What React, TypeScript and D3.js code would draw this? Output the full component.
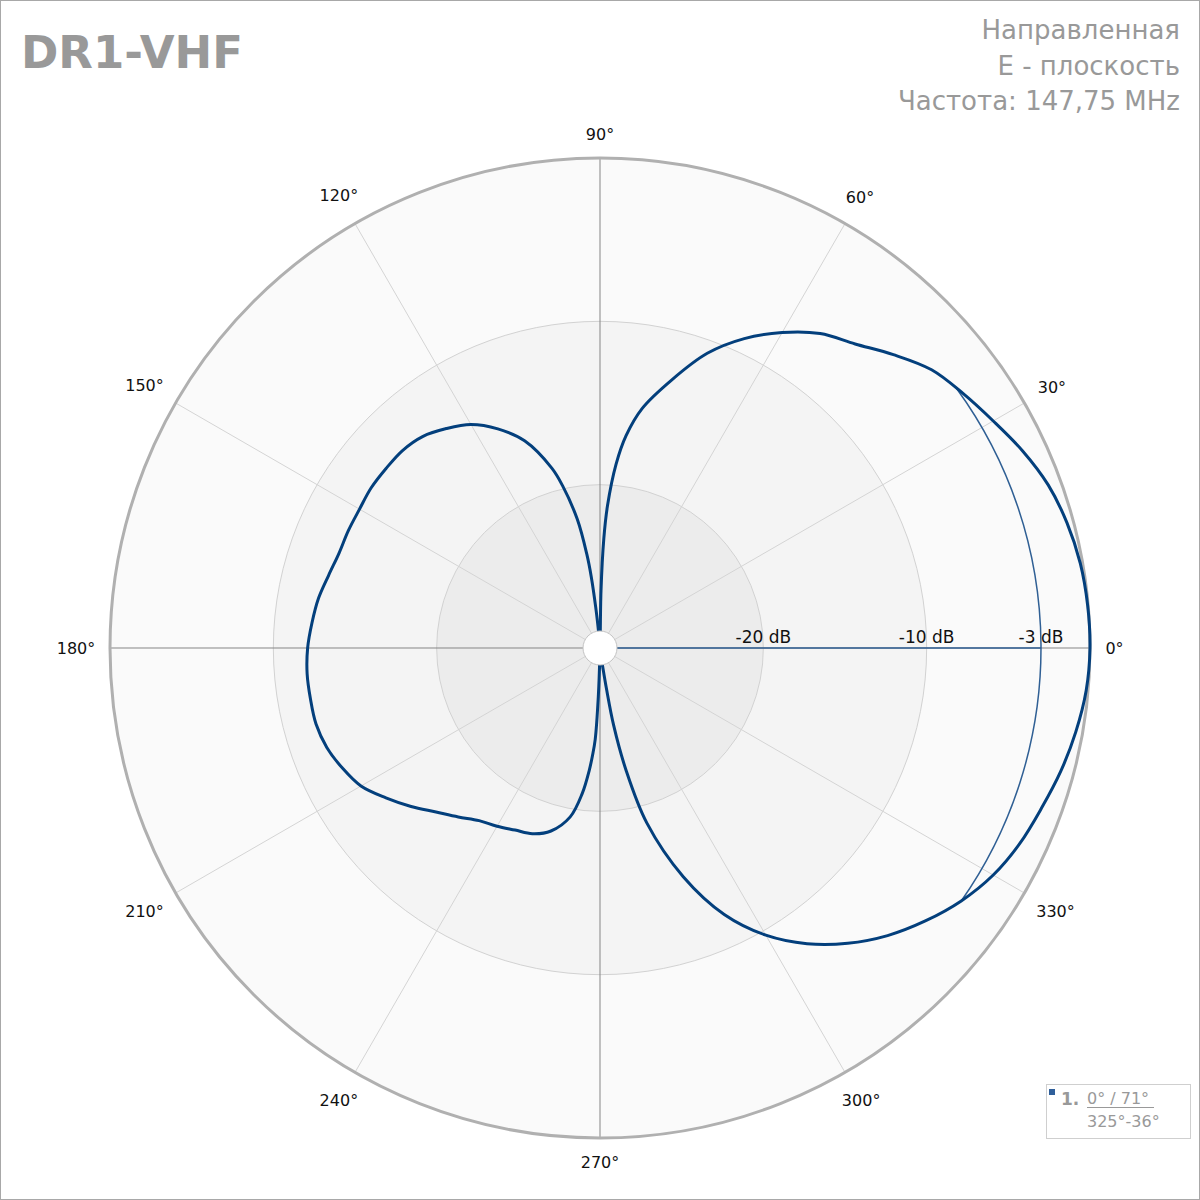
import { useEffect, useRef } from 'react';
import * as d3 from 'd3';

// measured pattern, degrees (counter-clockwise from 0° at right) / dB
const angleDeg = [
  0, 5, 10, 15, 20, 25, 30, 35, 40, 45, 50, 55, 60, 65, 70, 75, 80, 83, 85, 87, 88, 89,
  90, 93, 95, 96, 97, 98, 100, 103, 105, 110, 115, 120, 125, 130, 135, 140, 145, 150,
  155, 160, 165, 170, 175, 180, 185, 190, 195, 200, 205, 210, 215, 220, 225, 230, 235,
  240, 245, 250, 255, 260, 263, 265, 266, 267, 268, 269, 270, 275, 278, 279, 280, 282,
  285, 290, 295, 300, 305, 310, 315, 320, 325, 330, 335, 340, 345, 350, 355,
];
const gainDb = [
  0, -0.03, -0.14, -0.4, -0.8, -1.45, -2.2, -2.85, -3.5, -4.6, -5.7, -6.5, -7.7, -9.1,
  -10.8, -13.0, -15.1, -16.9, -18.7, -21.3, -23.3, -26.5,
  -30, -29.8, -29.0, -27.5, -25.6, -24.2, -22.0, -19.8, -18.6, -16.5, -15.2, -14.2,
  -13.6, -13.1, -12.9, -12.9, -12.9, -13.0, -13.0, -13.0, -12.8, -12.5, -12.3, -12.1,
  -12.0, -12.0, -12.0, -12.2, -12.6, -13.1, -14.0, -14.9, -15.8, -16.5, -17.1, -17.4,
  -17.7, -17.9, -18.4, -19.5, -21.0, -22.5, -23.4, -24.4, -27.0, -29.5, -30, -29.7,
  -29.0, -27.5, -25.2, -22.4, -18.9, -15.1, -12.0, -9.7, -7.9, -6.4, -5.1, -4.0, -3.0,
  -2.2, -1.65, -1.25, -0.8, -0.42, -0.12,
];

const ringDb = [-20, -10, 0];
const ringLabels = ['-20 dB', '-10 dB'];
const spokeDeg = [0, 30, 60, 90, 120, 150, 180, 210, 240, 270, 300, 330];
const halfPowerDb = -3;
const beamFrom = 325;
const beamTo = 36;

const titleText = 'DR1-VHF';
const infoLines = ['Направленная', 'E - плоскость', 'Частота: 147,75 MHz'];
const legendHead = '0° / 71°';
const legendSub = '325°-36°';

const FONT = '"DejaVu Sans", Verdana, sans-serif';

export default function App() {
  const svgRef = useRef<SVGSVGElement>(null);
  const width = 1200;
  const height = 1200;

  useEffect(() => {
    if (!svgRef.current) return;
    const svg = d3.select(svgRef.current);
    svg.selectAll('*').remove();

    const cx = 600;
    const cy = 648;
    const r = d3.scaleLinear().domain([-30, 0]).range([0, 490]).clamp(true);
    const toRad = (deg: number) => ((90 - deg) * Math.PI) / 180;

    svg.append('rect')
      .attr('x', 0.5).attr('y', 0.5)
      .attr('width', width - 1).attr('height', height - 1)
      .attr('fill', '#fff').attr('stroke', '#a8a8a8');

    const g = svg.append('g').attr('transform', `translate(${cx},${cy})`);

    // shaded zones
    const zoneFill = ['#fafafa', '#f4f4f4', '#ececec'];
    [0, -10, -20].forEach((db, i) => {
      g.append('circle').attr('r', r(db)).attr('fill', zoneFill[i]);
    });
    ringDb.slice(0, 2).forEach(db => {
      g.append('circle').attr('r', r(db)).attr('fill', 'none')
        .attr('stroke', '#d2d2d2').attr('stroke-width', 1);
    });

    // spokes
    spokeDeg.forEach(deg => {
      const major = deg % 90 === 0;
      const a = (deg * Math.PI) / 180;
      g.append('line')
        .attr('x1', 0).attr('y1', 0)
        .attr('x2', r(0) * Math.cos(a)).attr('y2', -r(0) * Math.sin(a))
        .attr('stroke', major ? '#858585' : '#d4d4d4')
        .attr('stroke-width', 1);
    });

    // outer circle
    g.append('circle').attr('r', r(0)).attr('fill', 'none')
      .attr('stroke', '#b0b0b0').attr('stroke-width', 3);

    // -3 dB beamwidth marker
    const beamArc = d3.arc<any>()
      .innerRadius(r(halfPowerDb)).outerRadius(r(halfPowerDb))
      .startAngle(toRad(beamTo)).endAngle(toRad(beamFrom - 360));
    g.append('path').attr('d', beamArc({}) as string)
      .attr('fill', 'none').attr('stroke', '#2f5f94').attr('stroke-width', 1.5);
    g.append('line')
      .attr('x1', 0).attr('y1', 0).attr('x2', r(halfPowerDb)).attr('y2', 0)
      .attr('stroke', '#2f5f94').attr('stroke-width', 1.5);

    // pattern
    const pts = angleDeg.map((a, i) => ({ a, v: gainDb[i] }));
    const line = d3.lineRadial<{ a: number; v: number }>()
      .angle(d => toRad(d.a))
      .radius(d => r(d.v))
      .curve(d3.curveCatmullRomClosed.alpha(0.5));
    g.append('path').datum(pts)
      .attr('d', line)
      .attr('fill', 'none')
      .attr('stroke', '#033f7c')
      .attr('stroke-width', 3)
      .attr('stroke-linejoin', 'round');

    // center hole
    g.append('circle').attr('r', 17).attr('fill', '#fff')
      .attr('stroke', '#c4c4c4').attr('stroke-width', 1);

    // ring labels
    [...ringLabels, '-3 dB'].forEach((t, i) => {
      const db = i < 2 ? ringDb[i] : halfPowerDb;
      g.append('text')
        .attr('x', r(db)).attr('y', -5)
        .attr('text-anchor', 'middle')
        .attr('font-family', FONT).attr('font-size', 17)
        .attr('fill', '#111')
        .text(t);
    });

    // angle labels
    spokeDeg.forEach(deg => {
      const a = (deg * Math.PI) / 180;
      const t = `${deg}°`;
      const w = t.length * 9.5;
      const rr = 505 + Math.abs(Math.cos(a)) * w / 2 + Math.abs(Math.sin(a)) * 9;
      g.append('text')
        .attr('x', rr * Math.cos(a)).attr('y', -rr * Math.sin(a))
        .attr('dy', '0.35em')
        .attr('text-anchor', 'middle')
        .attr('font-family', FONT).attr('font-size', 16)
        .attr('fill', '#111')
        .text(t);
    });

    // title + info
    svg.append('text')
      .attr('x', 21).attr('y', 68)
      .attr('font-family', FONT).attr('font-weight', 'bold').attr('font-size', 45)
      .attr('fill', '#999')
      .text(titleText);
    infoLines.forEach((t, i) => {
      svg.append('text')
        .attr('x', 1180).attr('y', 39 + i * 35.5)
        .attr('text-anchor', 'end')
        .attr('font-family', FONT).attr('font-size', 26)
        .attr('fill', '#999')
        .text(t);
    });

    // legend
    const lg = svg.append('g').attr('transform', 'translate(1046,1084)');
    lg.append('rect').attr('x', 0.5).attr('y', 0.5).attr('width', 144).attr('height', 54)
      .attr('fill', '#fff').attr('stroke', '#cfcfcf');
    lg.append('rect').attr('x', 3).attr('y', 5).attr('width', 6).attr('height', 6)
      .attr('fill', '#2f5f9a');
    lg.append('text').attr('x', 15).attr('y', 21)
      .attr('font-family', FONT).attr('font-weight', 'bold').attr('font-size', 17)
      .attr('fill', '#999').text('1.');
    lg.append('text').attr('x', 41).attr('y', 20)
      .attr('font-family', FONT).attr('font-size', 16)
      .attr('fill', '#999').text(legendHead);
    lg.append('line').attr('x1', 41).attr('x2', 108).attr('y1', 23.5).attr('y2', 23.5)
      .attr('stroke', '#999').attr('stroke-width', 1);
    lg.append('text').attr('x', 41).attr('y', 43)
      .attr('font-family', FONT).attr('font-size', 16)
      .attr('fill', '#999').text(legendSub);
  }, []);

  return (
    <svg
      ref={svgRef}
      width={width}
      height={height}
      style={{ position: 'absolute', left: 0, top: 0 }}
    />
  );
}
